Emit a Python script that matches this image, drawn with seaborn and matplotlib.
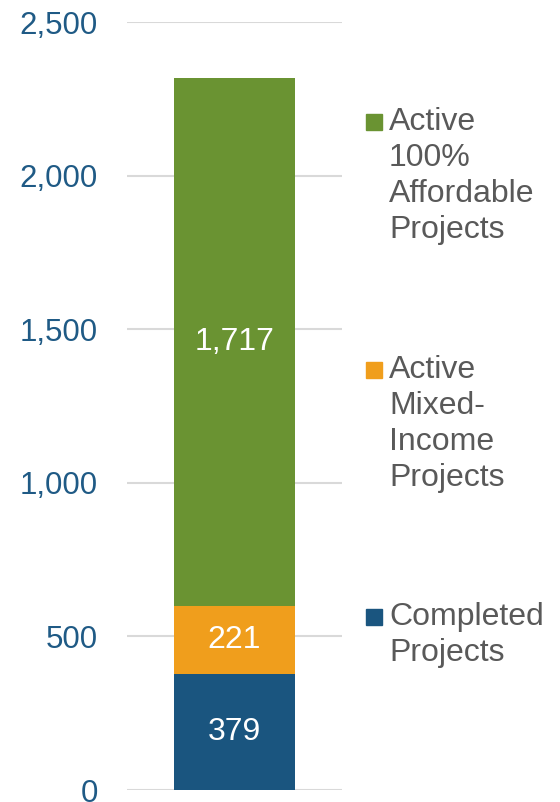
import numpy as np
import pandas as pd
import seaborn as sns
import matplotlib.pyplot as plt
from matplotlib.patches import Rectangle

# segments bottom -> top
segments = ["Completed\nProjects", "Active\nMixed-\nIncome\nProjects", "Active\n100%\nAffordable\nProjects"]
values = [379, 221, 1717]
colors = ["#1A557F", "#F09E1C", "#6A9332"]
yticks = [0, 500, 1000, 1500, 2000, 2500]

sns.set_style("white")
plt.rcParams["font.family"] = ["Liberation Sans", "DejaVu Sans"]

tops = np.cumsum(values)
bottoms = tops - np.array(values)

fig = plt.figure(figsize=(5.6, 8.02), dpi=100)
ax = fig.add_axes([0.2268, 0.01496, 0.384, 0.9576])

# stacked bar: draw cumulative totals from tallest to shortest
for i in reversed(range(len(values))):
    df = pd.DataFrame({"cat": ["All"], "val": [tops[i]]})
    sns.barplot(data=df, x="cat", y="val", color=colors[i], width=0.567,
                saturation=1, linewidth=0, ax=ax, zorder=2)

for b, v in zip(bottoms, values):
    ax.text(0, b + v / 2, f"{v:,}", ha="center", va="center",
            color="white", fontsize=23, zorder=3)

ax.set_ylim(0, 2500)
ax.set_xlim(-0.5, 0.5)
ax.set_yticks(yticks)
ax.set_yticklabels([f"{t:,}" for t in yticks])
ax.tick_params(axis="y", length=0, pad=21, labelsize=22.5, labelcolor="#1F5A85")
ax.set_xticks([])
ax.set_xlabel("")
ax.set_ylabel("")
ax.yaxis.grid(True, color="#D9D9D9", lw=1.5, zorder=0)
ax.set_axisbelow(True)
sns.despine(ax=ax, left=True, bottom=True)

# legend (Excel-style, green on top, square at first line)
W, H = 560, 802
leg_y = [122, 370, 617]
for label, color, yc in zip(reversed(segments), reversed(colors), leg_y):
    fig.patches.append(Rectangle((366 / W, (H - yc - 8) / H), 16 / W, 16 / H,
                                 transform=fig.transFigure, color=color))
    fig.text(389 / W, (H - yc + 15) / H, label, ha="left", va="top",
             fontsize=23, color="#595959", linespacing=1.26)

fig.savefig("out.png", dpi=100)
